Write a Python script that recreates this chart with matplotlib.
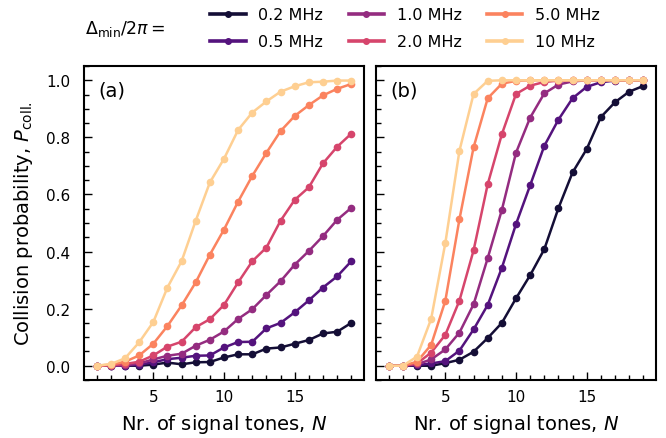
import numpy as np
import matplotlib
matplotlib.use("Agg")
import matplotlib.pyplot as plt
from matplotlib.ticker import MultipleLocator
from matplotlib.lines import Line2D

N = list(range(1, 20))
labels = ["0.2 MHz", "0.5 MHz", "1.0 MHz", "2.0 MHz", "5.0 MHz", "10 MHz"]

# Panel (a)
a_02 = [0, 0, 0, 0, 0.004, 0.011, 0.005, 0.012, 0.013, 0.029, 0.040, 0.040, 0.060, 0.064, 0.077, 0.090, 0.113, 0.119, 0.150]
a_05 = [0, 0, 0, 0.004, 0.012, 0.023, 0.028, 0.035, 0.036, 0.064, 0.083, 0.084, 0.131, 0.150, 0.187, 0.229, 0.274, 0.313, 0.366]
a_10 = [0, 0, 0.002, 0.008, 0.022, 0.035, 0.042, 0.070, 0.091, 0.120, 0.164, 0.198, 0.248, 0.296, 0.354, 0.402, 0.454, 0.511, 0.553]
a_20 = [0, 0.002, 0.006, 0.014, 0.036, 0.067, 0.084, 0.135, 0.163, 0.213, 0.292, 0.366, 0.414, 0.508, 0.581, 0.625, 0.709, 0.767, 0.813]
a_50 = [0, 0.004, 0.014, 0.036, 0.077, 0.139, 0.211, 0.292, 0.389, 0.477, 0.575, 0.665, 0.746, 0.822, 0.875, 0.913, 0.947, 0.970, 0.987]
a_100 = [0, 0.006, 0.026, 0.082, 0.153, 0.274, 0.366, 0.508, 0.642, 0.725, 0.826, 0.887, 0.926, 0.960, 0.979, 0.993, 0.995, 0.999, 0.999]

# Panel (b)
b_02 = [0, 0, 0, 0, 0.009, 0.021, 0.049, 0.097, 0.150, 0.236, 0.317, 0.408, 0.552, 0.677, 0.759, 0.871, 0.923, 0.960, 0.980]
b_05 = [0, 0, 0.002, 0.008, 0.016, 0.053, 0.127, 0.213, 0.343, 0.496, 0.632, 0.770, 0.862, 0.937, 0.977, 0.993, 0.999, 1.0, 1.0]
b_10 = [0, 0, 0.005, 0.022, 0.057, 0.116, 0.215, 0.377, 0.546, 0.746, 0.869, 0.954, 0.985, 0.996, 1.0, 1.0, 1.0, 1.0, 1.0]
b_20 = [0, 0, 0.008, 0.046, 0.108, 0.228, 0.404, 0.636, 0.811, 0.952, 0.981, 0.994, 0.999, 1.0, 1.0, 1.0, 1.0, 1.0, 1.0]
b_50 = [0, 0, 0.014, 0.073, 0.227, 0.513, 0.765, 0.937, 0.988, 0.998, 1.0, 1.0, 1.0, 1.0, 1.0, 1.0, 1.0, 1.0, 1.0]
b_100 = [0, 0, 0.032, 0.164, 0.429, 0.753, 0.952, 0.998, 1.0, 1.0, 1.0, 1.0, 1.0, 1.0, 1.0, 1.0, 1.0, 1.0, 1.0]

series_a = [a_02, a_05, a_10, a_20, a_50, a_100]
series_b = [b_02, b_05, b_10, b_20, b_50, b_100]

colors = plt.cm.magma(np.linspace(0.1, 0.9, 6))

fig = plt.figure(figsize=(6.66, 4.39), dpi=100)
axa = fig.add_axes([84/666, 1 - 381/439, 280/666, 314/439])
axb = fig.add_axes([376/666, 1 - 381/439, 280/666, 314/439], sharey=axa)

for ax, series, tag in [(axa, series_a, "(a)"), (axb, series_b, "(b)")]:
    for ys, c, lab in zip(series, colors, labels):
        ax.plot(N, ys, "-o", color=c, lw=1.8, ms=4.5, label=lab)
    ax.xaxis.set_major_locator(MultipleLocator(5))
    ax.xaxis.set_minor_locator(MultipleLocator(1))
    ax.yaxis.set_major_locator(MultipleLocator(0.2))
    ax.yaxis.set_minor_locator(MultipleLocator(0.05))
    ax.tick_params(which="both", direction="in", labelsize=11)
    ax.tick_params(which="major", length=6, width=1)
    ax.tick_params(which="minor", length=3.5, width=1)
    ax.tick_params(axis="x", which="major", pad=6.5)
    ax.tick_params(axis="y", which="major", pad=10)
    for s in ax.spines.values():
        s.set_linewidth(1.5)
    ax.set_xlabel("Nr. of signal tones, $N$", fontsize=14, labelpad=6)
    ax.text(0.05, 0.925, tag, transform=ax.transAxes, fontsize=14, va="center", ha="left")
    ax.set_xlim(0.1, 19.9)
    ax.set_ylim(-0.05, 1.05)

axa.set_ylabel(r"Collision probability, $P_\mathrm{coll.}$", fontsize=14, labelpad=8)
axb.tick_params(labelleft=False)

handles = [Line2D([], [], color=c, lw=2.6, marker="o", ms=4) for c in colors]
fig.legend(handles=handles, labels=labels, ncol=3, frameon=False, fontsize=11.5,
           loc="upper left", bbox_to_anchor=(196/666, 1.0 + 6/439),
           handlelength=2.2, columnspacing=1.6, labelspacing=0.75)
fig.text(85/666, 1 - 29/439, r"$\Delta_\mathrm{min}/2\pi =$", fontsize=12.5, va="center", ha="left")

fig.savefig("out.png", dpi=100)
